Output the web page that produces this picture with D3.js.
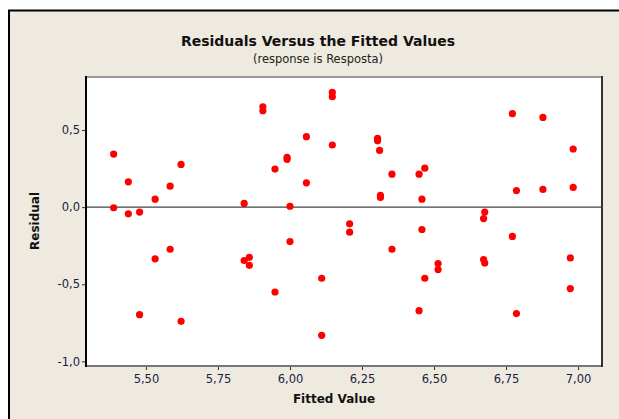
<!DOCTYPE html>
<html lang="pt">
<head>
<meta charset="utf-8">
<title>Residuals Versus the Fitted Values</title>
<script src="https://cdn.jsdelivr.net/npm/d3@7"></script>
<style>
  body { margin: 0; background: #fff; }
  svg text { font-family: "DejaVu Sans", Verdana, sans-serif; }
</style>
</head>
<body>
<script>
// fitted values and residuals
var fitted = [
  5.388, 5.906, 5.906, 5.622, 5.439, 5.584, 5.532, 5.388, 5.439, 5.478,
  5.841, 5.532, 5.584, 5.841, 5.859, 5.859, 5.478, 5.622,
  6.147, 6.147, 6.057, 6.147, 6.304, 6.304, 6.311, 5.990, 5.990, 5.948,
  6.354, 6.057, 6.314, 6.314, 6.000, 6.207, 6.207, 6.000, 6.354, 6.110,
  5.948, 6.110,
  6.772, 6.878, 6.983, 6.448, 6.468, 6.458, 6.786, 6.878, 6.983, 6.676,
  6.672, 6.458, 6.772, 6.514, 6.514, 6.672, 6.676, 6.973, 6.468, 6.973,
  6.448, 6.786
];
var residual = [
  0.344, 0.651, 0.625, 0.277, 0.164, 0.136, 0.052, -0.004, -0.043, -0.032,
  0.024, -0.335, -0.273, -0.346, -0.325, -0.377, -0.697, -0.740,
  0.745, 0.716, 0.457, 0.403, 0.446, 0.430, 0.368, 0.323, 0.310, 0.247,
  0.214, 0.158, 0.076, 0.063, 0.006, -0.108, -0.162, -0.223, -0.273, -0.461,
  -0.550, -0.831,
  0.606, 0.582, 0.377, 0.214, 0.253, 0.052, 0.108, 0.115, 0.128, -0.032,
  -0.074, -0.145, -0.190, -0.366, -0.405, -0.340, -0.362, -0.329, -0.461, -0.528,
  -0.671, -0.690
];
var xTicks = [5.5, 5.75, 6.0, 6.25, 6.5, 6.75, 7.0];
var yTicks = [-1.0, -0.5, 0.0, 0.5];

var width = 619, height = 419;
var pLeft = 86, pRight = 602, pTop = 77, pBottom = 366;

var svg = d3.select("body").append("svg")
    .attr("width", width)
    .attr("height", height);

// beige panel
svg.append("rect")
    .attr("x", 9).attr("y", 10.5)
    .attr("width", width).attr("height", height)
    .attr("fill", "#eeeae0");
svg.append("line").attr("x1", 9).attr("x2", 9).attr("y1", 10).attr("y2", height)
    .attr("stroke", "#000").attr("stroke-width", 2);
svg.append("line").attr("x1", 8).attr("x2", width).attr("y1", 10.5).attr("y2", 10.5)
    .attr("stroke", "#000").attr("stroke-width", 2);

// plot box
svg.append("rect")
    .attr("x", pLeft).attr("y", pTop)
    .attr("width", pRight - pLeft).attr("height", pBottom - pTop)
    .attr("fill", "#fff");

var x = d3.scaleLinear().domain([5.292, 7.083]).range([pLeft, pRight]);
var y = d3.scaleLinear().domain([-1.03, 0.844]).range([pBottom, pTop]);

var fmt = function(d) { return d3.format(".2f")(d).replace(".", ","); };
var fmtY = function(d) { return d3.format(".1f")(d).replace(".", ",").replace("\u2212", "-"); };

var xAxis = svg.append("g")
    .attr("transform", "translate(0," + pBottom + ")")
    .call(d3.axisBottom(x).tickValues(xTicks).tickFormat(fmt).tickSize(4).tickPadding(5));
var yAxis = svg.append("g")
    .attr("transform", "translate(" + pLeft + ",0)")
    .call(d3.axisLeft(y).tickValues(yTicks).tickFormat(fmtY).tickSize(4).tickPadding(2));

[xAxis, yAxis].forEach(function(a) {
  a.select(".domain").remove();
  a.selectAll("line").attr("stroke", "#333");
  a.selectAll("text").attr("font-size", 11.5).attr("fill", "#1c1c3a")
      .attr("font-family", "DejaVu Sans");
});

// zero reference line
svg.append("line")
    .attr("x1", pLeft).attr("x2", pRight)
    .attr("y1", y(0)).attr("y2", y(0))
    .attr("stroke", "#444").attr("stroke-width", 1.2);

// box edges
svg.append("line").attr("x1", pLeft).attr("x2", pRight).attr("y1", pTop).attr("y2", pTop)
    .attr("stroke", "#999").attr("stroke-width", 2);
svg.append("line").attr("x1", pLeft).attr("x2", pRight).attr("y1", pBottom).attr("y2", pBottom)
    .attr("stroke", "#777").attr("stroke-width", 2);
svg.append("line").attr("x1", pLeft).attr("x2", pLeft).attr("y1", pTop - 1).attr("y2", pBottom + 1)
    .attr("stroke", "#000").attr("stroke-width", 2);
svg.append("line").attr("x1", pRight).attr("x2", pRight).attr("y1", pTop - 1).attr("y2", pBottom + 1)
    .attr("stroke", "#333").attr("stroke-width", 2);

// points
svg.append("g").selectAll("circle")
    .data(fitted)
    .enter()
    .append("circle")
    .attr("cx", function(d) { return x(d); })
    .attr("cy", function(d, i) { return y(residual[i]); })
    .attr("r", 3.6)
    .attr("fill", "#ff0000");

// titles
svg.append("text")
    .attr("x", 318).attr("y", 46)
    .attr("text-anchor", "middle")
    .attr("font-size", 14).attr("font-weight", "bold").attr("fill", "#111")
    .text("Residuals Versus the Fitted Values");
svg.append("text")
    .attr("x", 318).attr("y", 63)
    .attr("text-anchor", "middle")
    .attr("font-size", 11.5).attr("fill", "#222")
    .text("(response is Resposta)");
svg.append("text")
    .attr("x", 334).attr("y", 403)
    .attr("text-anchor", "middle")
    .attr("font-size", 12).attr("font-weight", "bold").attr("fill", "#111")
    .text("Fitted Value");
svg.append("text")
    .attr("transform", "translate(39,221) rotate(-90)")
    .attr("text-anchor", "middle")
    .attr("font-size", 12).attr("font-weight", "bold").attr("fill", "#111")
    .text("Residual");
</script>
</body>
</html>
